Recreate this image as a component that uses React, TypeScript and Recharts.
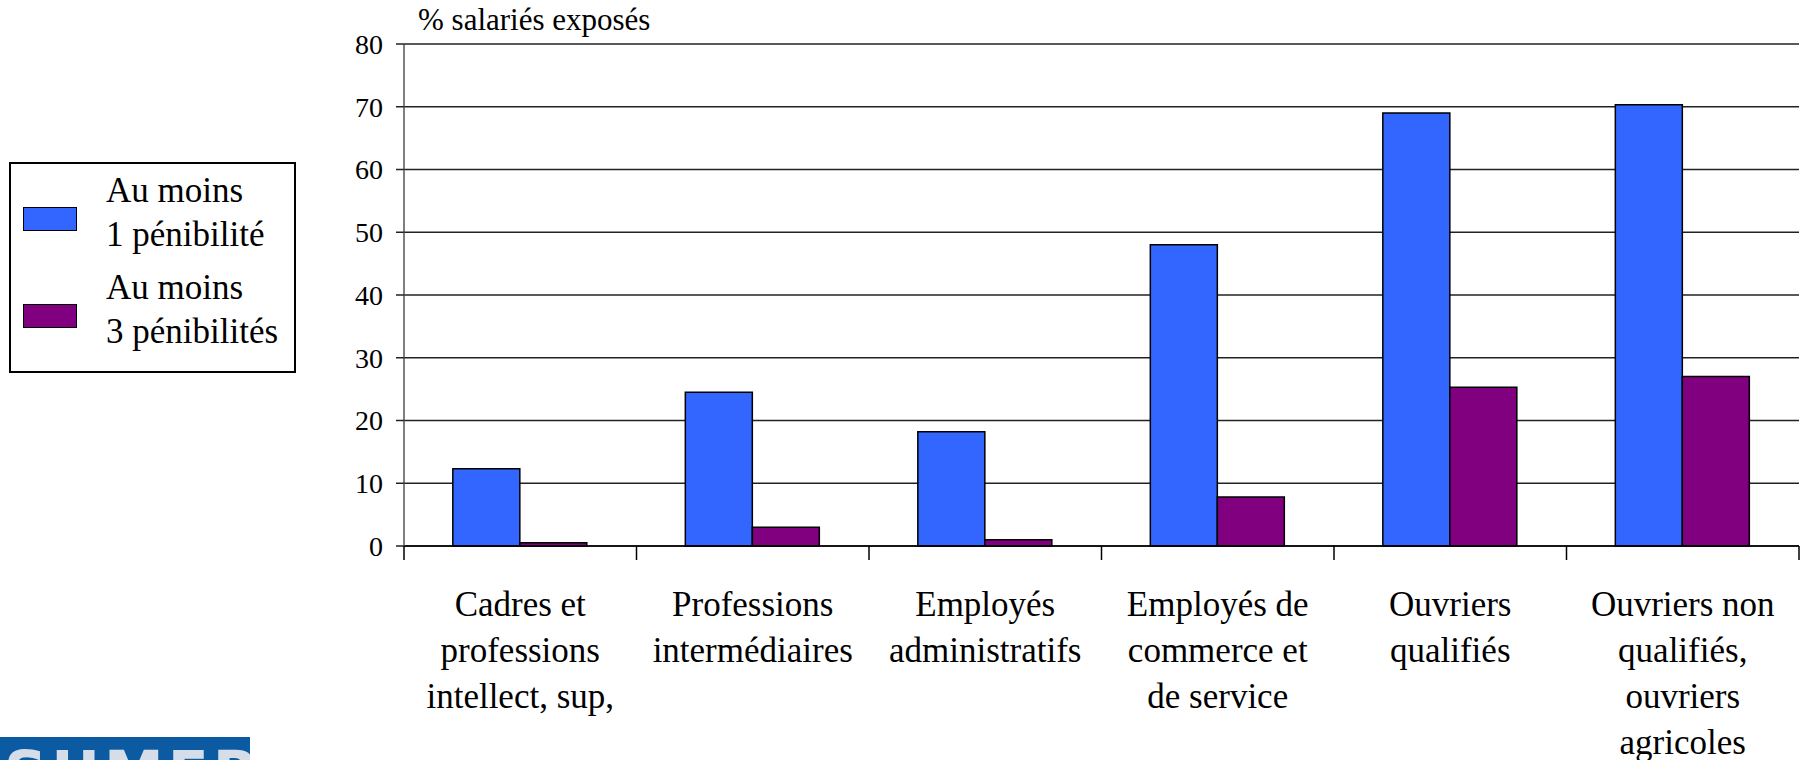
import { BarChart, Bar, XAxis, YAxis, CartesianGrid, Legend } from 'recharts';

const categories = [
  'Cadres et\nprofessions\nintellect, sup,',
  'Professions\nintermédiaires',
  'Employés\nadministratifs',
  'Employés de\ncommerce et\nde service',
  'Ouvriers\nqualifiés',
  'Ouvriers non\nqualifiés,\nouvriers\nagricoles',
];
const auMoins1 = [12.3, 24.5, 18.2, 48, 69, 70.3];
const auMoins3 = [0.5, 3, 1, 7.8, 25.3, 27];
const yTicks = [0, 10, 20, 30, 40, 50, 60, 70, 80];

const data = categories.map((name, i) => ({ name, un: auMoins1[i], trois: auMoins3[i] }));

const FONT = 'Liberation Serif, serif';
const W = 1812;
const H = 760;
const LEFT = 404;
const RIGHT = 13;
const BAND = (W - LEFT - RIGHT) / categories.length;

function CategoryTick(props: any) {
  const { x, y, payload, index } = props;
  const lines = String(payload.value).split('\n');
  return (
    <g>
      <line x1={x - BAND / 2} y1={y} x2={x - BAND / 2} y2={y + 14} stroke="#000" strokeWidth={1.5} />
      {index === categories.length - 1 && (
        <line x1={x + BAND / 2} y1={y} x2={x + BAND / 2} y2={y + 14} stroke="#000" strokeWidth={1.5} />
      )}
      <text textAnchor="middle" fontSize={35} fontFamily={FONT} style={{ fontFamily: FONT }} fill="#000">
        {lines.map((l, i) => (
          <tspan key={i} x={x} y={y + 70 + i * 46}>{l}</tspan>
        ))}
      </text>
    </g>
  );
}

function AxisTitle(props: any) {
  const { viewBox } = props;
  return (
    <text
      x={viewBox.x + viewBox.width + 14}
      y={viewBox.y - 14}
      fontSize={31}
      fontFamily={FONT}
      style={{ fontFamily: FONT }}
      fill="#000"
    >
      % salariés exposés
    </text>
  );
}

function LegendBox(props: any) {
  const { payload = [] } = props;
  const names: Record<string, string[]> = {
    un: ['Au moins', '1 pénibilité'],
    trois: ['Au moins', '3 pénibilités'],
  };
  return (
    <div style={{ position: 'relative', width: 283, height: 207, border: '2px solid #000', background: '#fff', fontFamily: FONT }}>
      {payload.map((p: any, i: number) => (
        <div key={p.dataKey} style={{ position: 'absolute', left: 0, top: i * 97, width: 283, height: 97 }}>
          <div style={{ position: 'absolute', left: 12, top: 43, width: 52, height: 22, background: p.color, border: '1.5px solid #000' }} />
          <div style={{ position: 'absolute', left: 95, top: 5, fontSize: 35, lineHeight: '44px', color: '#000', whiteSpace: 'nowrap' }}>
            {names[p.dataKey][0]}
            <br />
            {names[p.dataKey][1]}
          </div>
        </div>
      ))}
    </div>
  );
}

export default function App() {
  return (
    <div style={{ position: 'absolute', left: 0, top: 0, width: W, height: H, background: '#fff', overflow: 'hidden' }}>
      <BarChart
        width={W}
        height={H}
        data={data}
        margin={{ top: 44, right: RIGHT, left: 0, bottom: 0 }}
        barCategoryGap="21%"
        barGap={0}
      >
        <CartesianGrid vertical={false} stroke="#222" strokeWidth={1.5} />
        <XAxis
          dataKey="name"
          interval={0}
          height={H - 546}
          axisLine={{ stroke: '#000', strokeWidth: 1.5 }}
          tickLine={false}
          tickSize={0}
          tickMargin={0}
          tick={<CategoryTick />}
        />
        <YAxis
          width={LEFT}
          domain={[0, 80]}
          ticks={yTicks}
          interval={0}
          tickSize={8}
          tickMargin={13}
          axisLine={{ stroke: '#555', strokeWidth: 1.5 }}
          tickLine={{ stroke: '#222', strokeWidth: 1.5 }}
          tick={{ fill: '#000', fontSize: 28, fontFamily: FONT }}
          label={{ content: <AxisTitle /> }}
        />
        <Legend
          layout="horizontal"
          verticalAlign="middle"
          align="center"
          wrapperStyle={{ left: 9, top: 162, width: 287, height: 211 }}
          content={<LegendBox />}
        />
        <Bar dataKey="un" name="Au moins 1 pénibilité" fill="#3366FF" stroke="#000" strokeWidth={1.5} isAnimationActive={false} />
        <Bar dataKey="trois" name="Au moins 3 pénibilités" fill="#800080" stroke="#000" strokeWidth={1.5} isAnimationActive={false} />
      </BarChart>
      <div
        style={{
          position: 'absolute', left: 0, top: 737, width: 250, height: 23, overflow: 'hidden',
          background: '#0b5aa2', color: '#d5dde8', fontFamily: 'DejaVu Sans, sans-serif',
          fontWeight: 'bold', fontSize: 60, lineHeight: '60px', letterSpacing: 4, paddingLeft: 4, paddingTop: 6, boxSizing: 'border-box',
        }}
      >
        SUMER
      </div>
    </div>
  );
}
